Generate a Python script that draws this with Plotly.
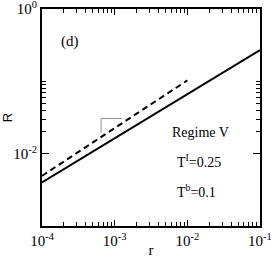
import plotly.graph_objects as go

# Data
r_vals = [1e-4, 1e-3, 1e-2, 1e-1]
R_solid = [0.0040, 0.0164, 0.066, 0.27]
r_dash = [1e-4, 1e-3, 1e-2]
R_dash = [0.00494, 0.0226, 0.103]

# slope triangle (2/3)
tri_r = [1.26e-3, 6.5e-4, 6.5e-4]
tri_R = [0.0306, 0.0306, 0.0196]

x_tickvals = [1e-4, 1e-3, 1e-2, 1e-1]
x_ticktext = ["10<sup>-4</sup>", "10<sup>-3</sup>", "10<sup>-2</sup>", "10<sup>-1</sup>"]
x_minor = [m * d for d in [1e-4, 1e-3, 1e-2] for m in range(2, 10)]
y_tickvals = [1e-2, 1e0]
y_ticktext = ["10<sup>-2</sup>", "10<sup>0</sup>"]
y_minor = [m * 1e-2 for m in range(2, 11)]

serif = "Liberation Serif, Times New Roman, serif"

fig = go.Figure()
fig.add_trace(go.Scatter(x=r_vals, y=R_solid, mode="lines",
                         line=dict(color="black", width=2), showlegend=False))
fig.add_trace(go.Scatter(x=r_dash, y=R_dash, mode="lines",
                         line=dict(color="black", width=2, dash="6px,4px"), showlegend=False))
fig.add_trace(go.Scatter(x=tri_r, y=tri_R, mode="lines",
                         line=dict(color="#909090", width=1), showlegend=False))

fig.add_annotation(x=(tri_r[0] * tri_r[1]) ** 0.5, y=tri_R[0], xref="x", yref="y",
                   text="2/3", showarrow=False, xanchor="center", yanchor="bottom", yshift=-2,
                   font=dict(family=serif, size=9, color="black"))

def label(x, y, text, size=14):
    fig.add_annotation(x=x, y=y, xref="paper", yref="paper", text=text,
                       showarrow=False, xanchor="center", yanchor="middle",
                       font=dict(family=serif, size=size, color="black"))

label(0.128, 0.848, "(d)", 15)
label(0.725, 0.43, "Regime V")
label(0.72, 0.30, "T<sup>I</sup>=0.25")
label(0.711, 0.16, "T<sup>b</sup>=0.1")

fig.update_xaxes(type="log", range=[-4.0001, -0.9999], tickmode="array", tickvals=x_tickvals,
                 ticktext=x_ticktext, ticks="inside", ticklen=6, tickwidth=1,
                 tickcolor="black", mirror="ticks", showline=True, linecolor="black",
                 linewidth=2, showgrid=False, zeroline=False, automargin=False,
                 ticklabeloverflow="allow",
                 tickfont=dict(family=serif, size=15, color="black"),
                 minor=dict(tickmode="array", tickvals=x_minor, ticks="inside",
                            ticklen=4, tickcolor="black", tickwidth=1, showgrid=False),
                 title=dict(text="r", font=dict(family=serif, size=15, color="black"),
                            standoff=0))
fig.update_yaxes(type="log", range=[-3.0001, 0.0001], tickmode="array", tickvals=y_tickvals,
                 ticktext=y_ticktext, ticks="inside", ticklen=7, tickwidth=1,
                 tickcolor="black", mirror="ticks", showline=True, linecolor="black",
                 linewidth=2, showgrid=False, zeroline=False, automargin=False,
                 ticklabeloverflow="allow",
                 tickfont=dict(family=serif, size=15, color="black"),
                 minor=dict(tickmode="array", tickvals=y_minor, ticks="inside",
                            ticklen=4, tickcolor="black", tickwidth=1, showgrid=False),
                 title=dict(text="R", font=dict(family="Liberation Sans, Arial, sans-serif",
                                                size=13, color="black"), standoff=2))

fig.update_layout(width=273, height=258, margin=dict(l=42, r=13, t=9, b=32),
                  plot_bgcolor="white", paper_bgcolor="white")

fig.write_html("out.html", config={"displayModeBar": False},
               post_script="document.body.style.margin='0';")
